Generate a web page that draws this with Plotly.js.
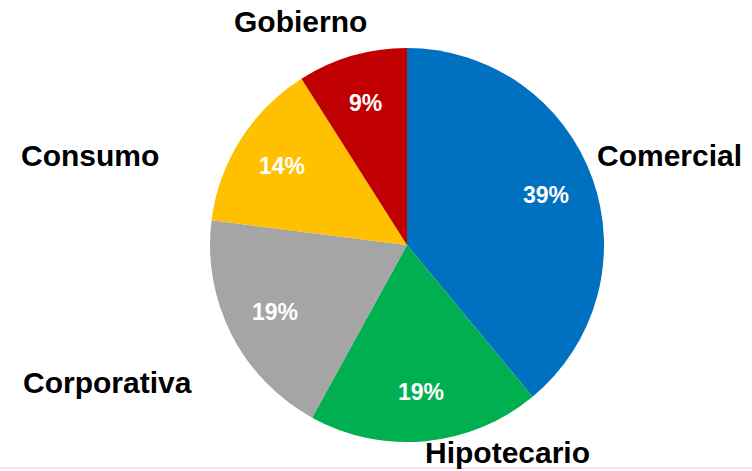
<!DOCTYPE html>
<html>
<head>
<meta charset="utf-8">
<script src="https://cdn.plot.ly/plotly-3.0.1.min.js"></script>
<style>html,body{margin:0;padding:0;background:#fff;}#chart{width:752px;height:471px;}</style>
</head>
<body>
<div id="chart"></div>
<script>
const categories = ["Comercial", "Hipotecario", "Corporativa", "Consumo", "Gobierno"];
const values = [39, 19, 19, 14, 9];
const colors = ["#0070C0", "#00B050", "#A5A5A5", "#FFC000", "#C00000"];
// outside label anchor positions (pixels), in the same order as categories
const labelX = [669, 508, 107, 90, 300];
const labelY = [156, 452, 382, 156, 22];

const W = 752, H = 471;
const cx = 407, cy = 245, r = 197;
const FONT = "Liberation Sans, Arial, sans-serif";

const trace = {
  type: "pie",
  labels: categories,
  values: values,
  sort: false,
  direction: "clockwise",
  rotation: 0,
  marker: {colors: colors, line: {width: 0}},
  textinfo: "none",
  hoverinfo: "label+percent",
  showlegend: false,
  domain: {x: [(cx - r) / W, (cx + r) / W], y: [(H - cy - r) / H, (H - cy + r) / H]}
};

const total = values.reduce((a, b) => a + b, 0);
let cum = 0;
const pctAnn = values.map((v, i) => {
  const mid = (cum + v / 2) / total * 2 * Math.PI;
  cum += v;
  const rr = 0.75 * r;
  const px = cx + rr * Math.sin(mid), py = cy - rr * Math.cos(mid);
  return {
    text: "<b>" + Math.round(v / total * 100) + "%</b>",
    x: px / W, y: 1 - py / H, xref: "paper", yref: "paper",
    xanchor: "center", yanchor: "middle", showarrow: false,
    font: {family: FONT, size: 23, color: "#ffffff"}
  };
});

const labelAnn = categories.map((c, i) => ({
  text: "<b>" + c + "</b>",
  x: labelX[i] / W, y: 1 - labelY[i] / H,
  xref: "paper", yref: "paper",
  xanchor: "center", yanchor: "middle",
  showarrow: false,
  font: {family: FONT, size: 30, color: "#000000"}
}));

const layout = {
  width: W, height: H,
  margin: {l: 0, r: 0, t: 0, b: 0},
  paper_bgcolor: "#ffffff",
  plot_bgcolor: "#ffffff",
  showlegend: false,
  annotations: pctAnn.concat(labelAnn),
  shapes: [{type: "line", xref: "paper", yref: "paper", x0: 0, x1: 1, y0: 3 / H, y1: 3 / H,
            line: {color: "#F4CACA", width: 1}}]
};

Plotly.newPlot("chart", [trace], layout, {displayModeBar: false, staticPlot: true});
</script>
</body>
</html>
